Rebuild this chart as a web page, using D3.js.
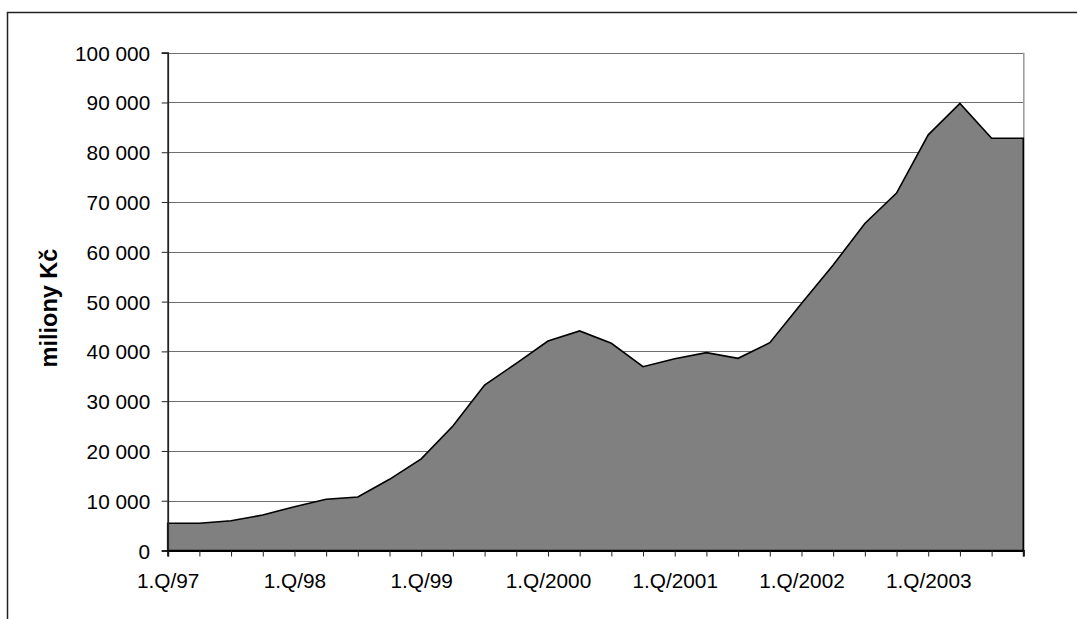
<!DOCTYPE html>
<html>
<head>
<meta charset="utf-8">
<script src="https://cdn.jsdelivr.net/npm/d3@7"></script>
<style>
  html, body { margin: 0; padding: 0; background: #fff; }
  svg { display: block; }
  text { font-family: "Liberation Sans", Arial, sans-serif; fill: #000; }
</style>
</head>
<body>
<svg id="chart" width="1077" height="619"></svg>
<script>
// Quarterly values (miliony Kč), 1.Q/97 – 4.Q/03
const quarters = [
  "1.Q/97","2.Q/97","3.Q/97","4.Q/97",
  "1.Q/98","2.Q/98","3.Q/98","4.Q/98",
  "1.Q/99","2.Q/99","3.Q/99","4.Q/99",
  "1.Q/2000","2.Q/2000","3.Q/2000","4.Q/2000",
  "1.Q/2001","2.Q/2001","3.Q/2001","4.Q/2001",
  "1.Q/2002","2.Q/2002","3.Q/2002","4.Q/2002",
  "1.Q/2003","2.Q/2003","3.Q/2003","4.Q/2003"
];
const values = [
  5460, 5460, 5990, 7130,
  8800, 10290, 10750, 14300,
  18420, 25010, 33250, 37600,
  42090, 44100, 41620, 36920,
  38510, 39740, 38610, 41740,
  49640, 57350, 65700, 71800,
  83500, 89800, 82800, 82800
];
const xTickLabels = ["1.Q/97","1.Q/98","1.Q/99","1.Q/2000","1.Q/2001","1.Q/2002","1.Q/2003"];
const yTicks = [0, 10000, 20000, 30000, 40000, 50000, 60000, 70000, 80000, 90000, 100000];
const yTitle = "miliony Kč";

const svg = d3.select("#chart");
const plotLeft = 167.7, plotRight = 1023.3, plotTop = 52.7, plotBottom = 550.5;

const x = d3.scalePoint().domain(quarters).range([plotLeft, plotRight]);
const y = d3.scaleLinear().domain([0, 100000]).range([plotBottom, plotTop]);
const fmt = d3.formatLocale({ decimal: ",", thousands: "\u00a0", grouping: [3], currency: ["", " Kč"] }).format(",");

// outer chart frame (runs off the right and bottom edges)
svg.append("rect")
  .attr("x", 7.5).attr("y", 12.5)
  .attr("width", 1100).attr("height", 640)
  .attr("fill", "none").attr("stroke", "#222").attr("stroke-width", 1.5);

// gridlines
svg.append("g").selectAll("line").data(yTicks.filter(d => d > 0)).join("line")
  .attr("x1", plotLeft).attr("x2", plotRight)
  .attr("y1", d => Math.round(y(d)) + 0.5).attr("y2", d => Math.round(y(d)) + 0.5)
  .attr("stroke", "#6e6e6e").attr("stroke-width", 1);

// plot area border on the right
svg.append("line")
  .attr("x1", plotRight + 0.5).attr("x2", plotRight + 0.5)
  .attr("y1", plotTop).attr("y2", plotBottom)
  .attr("stroke", "#9a9a9a").attr("stroke-width", 1.5);

// area
const area = d3.area()
  .x((d, i) => x(quarters[i]))
  .y0(y(0))
  .y1(d => y(d));
svg.append("path")
  .datum(values)
  .attr("d", area)
  .attr("fill", "#808080")
  .attr("stroke", "#000")
  .attr("stroke-width", 1.6)
  .attr("stroke-linejoin", "miter");

// y axis
const yAxis = d3.axisLeft(y).tickValues(yTicks).tickSize(6).tickPadding(0).tickFormat(fmt);
const gy = svg.append("g").attr("transform", `translate(${plotLeft},0)`).call(yAxis);
gy.select(".domain").attr("stroke", "#222").attr("stroke-width", 1.8);
gy.selectAll(".tick line").attr("stroke", "#222");
gy.selectAll(".tick text")
  .attr("x", -17.5).attr("dy", "0.36em")
  .style("font-size", "20.8px").style("font-family", '"Liberation Sans", Arial, sans-serif')
  .attr("fill", "#000");

// x axis
const xAxis = d3.axisBottom(x).tickSize(6).tickPadding(0)
  .tickFormat(d => xTickLabels.includes(d) ? d : "");
const gx = svg.append("g").attr("transform", `translate(0,${plotBottom})`).call(xAxis);
gx.select(".domain").attr("stroke", "#000").attr("stroke-width", 2);
gx.selectAll(".tick line").attr("stroke", "#222");
gx.selectAll(".tick text")
  .attr("y", 37.8).attr("dy", 0)
  .style("font-size", "20.8px").style("font-family", '"Liberation Sans", Arial, sans-serif')
  .attr("fill", "#000");

// y axis title
svg.append("text")
  .attr("transform", "translate(56.5,308) rotate(-90)")
  .attr("text-anchor", "middle")
  .style("font-size", "23.5px").style("font-weight", "bold")
  .text(yTitle);
</script>
</body>
</html>
